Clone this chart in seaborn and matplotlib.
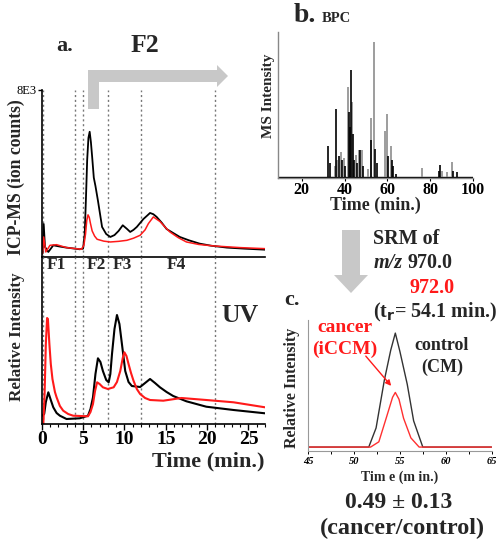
import numpy as np
import pandas as pd
import matplotlib
matplotlib.use("Agg")
import matplotlib.pyplot as plt
import seaborn as sns
from matplotlib.patches import Polygon, FancyArrowPatch

sns.set_theme(style="white")
plt.rcParams['font.family'] = ['Liberation Serif', 'DejaVu Serif']

# ---------------- data ----------------
# ICP-MS (ion counts), panel a top
icp_black_t = [0.1, 0.24, 0.4, 0.8, 1.4, 2.2, 3.0, 4.6, 5.0, 5.2, 5.35, 5.5, 5.65, 5.8, 5.95, 6.1, 6.3, 6.5, 6.8, 7.3, 7.8, 8.3, 8.8, 9.3, 9.8, 10.3, 10.7, 11.1, 11.5, 12.3, 12.8, 13.1, 13.5, 13.9, 14.5, 15.1, 15.9, 16.7, 17.8, 19.1, 20.5, 22.4, 24.5, 27.0]
icp_black_v = [160, 1580, 480, 240, 560, 500, 450, 370, 400, 1100, 2800, 4660, 5700, 6000, 5500, 4800, 3800, 3400, 2700, 1440, 1100, 960, 1050, 1250, 1520, 1350, 1200, 1300, 1440, 1820, 2000, 2110, 2050, 1920, 1650, 1340, 1150, 960, 800, 640, 540, 450, 400, 350]
icp_red_t = [0.1, 0.24, 0.5, 1.0, 1.8, 3.0, 4.8, 5.1, 5.3, 5.45, 5.6, 5.75, 5.9, 6.1, 6.4, 6.7, 7.5, 8.3, 9.3, 10.3, 11.1, 11.9, 12.5, 12.9, 13.5, 14.3, 15.0, 15.5, 16.5, 17.5, 19.0, 20.8, 24.0, 27.0]
icp_red_v = [160, 960, 240, 560, 590, 450, 370, 560, 1100, 1750, 2020, 1900, 1600, 1250, 1000, 850, 760, 720, 750, 800, 900, 1040, 1300, 1600, 1920, 1700, 1400, 1200, 930, 720, 600, 530, 450, 400]

# UV relative intensity, panel a bottom
uv_black_t = [0.0, 0.3, 0.5, 0.8, 1.1, 1.4, 1.8, 2.2, 3.0, 4.6, 5.6, 5.9, 6.2, 6.5, 6.8, 7.1, 7.4, 7.8, 8.1, 8.3, 8.5, 8.8, 9.1, 9.4, 9.6, 9.85, 10.1, 10.5, 10.9, 11.9, 12.5, 13.1, 13.7, 14.3, 15.1, 15.9, 17.5, 19.9, 23.2, 27.0]
uv_black_v = [8.0, 10.0, 22.0, 31.7, 24.0, 16.7, 11.0, 8.3, 5.0, 5.7, 8.3, 15.0, 26.7, 50.0, 65.7, 62.0, 53.0, 44.0, 41.7, 50.0, 70.0, 95.0, 109.0, 100.0, 86.7, 70.0, 53.0, 42.0, 38.0, 37.0, 41.0, 45.0, 41.0, 36.7, 32.0, 28.0, 22.7, 17.3, 14.0, 10.7]
uv_red_t = [0.2, 0.35, 0.5, 0.65, 0.75, 0.93, 1.1, 1.3, 1.6, 1.8, 2.2, 2.6, 3.2, 3.8, 5.6, 5.9, 6.2, 6.45, 6.7, 7.0, 7.4, 8.0, 8.7, 9.1, 9.5, 9.8, 10.0, 10.25, 10.5, 10.8, 11.1, 11.5, 11.9, 12.5, 13.1, 14.7, 16.9, 19.9, 23.2, 27.0]
uv_red_v = [0.7, 30.0, 80.0, 106.0, 105.0, 80.0, 60.0, 45.0, 32.0, 26.7, 18.0, 13.3, 10.0, 8.3, 7.7, 12.0, 20.0, 33.0, 41.7, 40.0, 36.7, 35.0, 36.7, 42.0, 53.0, 66.0, 71.7, 68.0, 60.0, 51.0, 43.3, 35.0, 30.0, 26.0, 24.0, 23.3, 26.0, 24.0, 21.7, 16.7]

fraction_bounds = [0.2, 4, 5, 8, 12, 21]
fraction_labels = ["F1", "F2", "F3", "F4"]
fraction_label_t = [1.8, 6.6, 9.8, 16.3]
uv_xticks = [0, 5, 10, 15, 20, 25]

# BPC, panel b (stick peaks)
bpc_black_t = [32.2, 33.0, 36.0, 37.5, 38.8, 40.2, 42.1, 42.6, 42.9, 43.8, 44.5, 46.0, 47.4, 48.6, 52.5, 54.2, 55.0, 60.2, 62.2, 62.8, 64.0, 84.0, 84.8, 90.8, 92.5]
bpc_black_h = [0.22, 0.10, 0.47, 0.15, 0.12, 0.08, 0.45, 0.35, 0.74, 0.30, 0.12, 0.10, 0.19, 0.08, 0.26, 0.20, 0.10, 0.15, 0.125, 0.08, 0.03, 0.05, 0.09, 0.05, 0.04]
bpc_gray_t = [35.5, 36.6, 38.2, 39.5, 41.5, 43.3, 45.3, 46.8, 48.0, 51.0, 52.1, 53.7, 58.7, 59.7, 61.6, 76.0, 85.5, 88.0, 90.0]
bpc_gray_h = [0.08, 0.12, 0.18, 0.14, 0.62, 0.52, 0.16, 0.19, 0.19, 0.06, 0.41, 0.93, 0.32, 0.44, 0.22, 0.07, 0.05, 0.04, 0.11]
bpc_xticks = [20, 40, 60, 80, 100]

# SRM, panel c
srm_control_t = [45.0, 51.6, 52.4, 53.3, 54.0, 54.5, 55.0, 55.8, 56.5, 57.5, 65.0]
srm_control_v = [0.03, 0.03, 0.176, 0.54, 0.77, 0.90, 0.76, 0.51, 0.23, 0.03, 0.03]
srm_cancer_t = [45.0, 51.8, 52.7, 53.5, 54.2, 54.5, 54.9, 55.4, 56.2, 57.1, 65.0]
srm_cancer_v = [0.03, 0.03, 0.07, 0.25, 0.41, 0.447, 0.395, 0.25, 0.10, 0.03, 0.03]
srm_xticks = [45, 50, 55, 60, 65]

# ---------------- figure ----------------
W, H = 496, 543
fig = plt.figure(figsize=(W / 100, H / 100), dpi=100)

def ax_px(x0, y0, x1, y1):
    return fig.add_axes([x0 / W, 1 - y1 / H, (x1 - x0) / W, (y1 - y0) / H])

def fpx(x, y):
    return x / W, 1 - y / H

RED = "#ff1a1a"

# panel a top: ICP-MS
ax1 = ax_px(41.7, 90, 265, 257)
ax2 = ax_px(41.7, 257, 265, 424)

icp_b = pd.DataFrame({"t": icp_black_t, "v": icp_black_v})
icp_r = pd.DataFrame({"t": icp_red_t, "v": icp_red_v})
sns.lineplot(data=icp_b, x="t", y="v", ax=ax1, color="black", lw=1.3, estimator=None)
sns.lineplot(data=icp_r, x="t", y="v", ax=ax1, color=RED, lw=1.1, estimator=None)
ax1.set_xlim(0, 27)
ax1.set_ylim(0, 8000)
ax1.set_yticks([8000])
ax1.set_yticklabels(["8E3"], fontsize=9)
ax1.set_xticks([])
ax1.set_xlabel("")
ax1.set_ylabel("ICP-MS (ion counts)", fontsize=12.7, fontweight="bold", labelpad=0)
ax1.yaxis.set_label_coords(-0.075, 0.48)
ax1.tick_params(axis="y", length=3, width=1, left=True, pad=1, colors="black")
for s in ["top", "right"]:
    ax1.spines[s].set_visible(False)
for s in ["left", "bottom"]:
    ax1.spines[s].set_color("black")
    ax1.spines[s].set_linewidth(1.2)
ax1.set_facecolor("none")

uv_b = pd.DataFrame({"t": uv_black_t, "v": uv_black_v})
uv_r = pd.DataFrame({"t": uv_red_t, "v": uv_red_v})
sns.lineplot(data=uv_b, x="t", y="v", ax=ax2, color="black", lw=1.5, estimator=None)
sns.lineplot(data=uv_r, x="t", y="v", ax=ax2, color=RED, lw=1.5, estimator=None)
ax2.set_xlim(0, 27)
ax2.set_ylim(0, 167)
ax2.set_yticks([])
ax2.set_xticks(uv_xticks)
ax2.set_xticks(np.arange(0, 28, 1), minor=True)
ax2.set_xticklabels([str(v) for v in uv_xticks], fontsize=14, fontweight="bold")
ax2.tick_params(axis="x", which="major", length=4, width=1, bottom=True, direction="out", pad=1, colors="black")
ax2.tick_params(axis="x", which="minor", length=2.5, width=0.8, bottom=True, direction="out", colors="black")
ax2.set_xlabel("Time (min.)", fontsize=16, fontweight="bold", labelpad=0)
ax2.xaxis.set_label_coords(0.747, -0.165)
ax2.set_ylabel("Relative Intensity", fontsize=12.3, fontweight="bold", labelpad=6)
ax2.yaxis.set_label_coords(-0.075, 0.52)
for s in ["top", "right"]:
    ax2.spines[s].set_visible(False)
for s in ["left", "bottom"]:
    ax2.spines[s].set_color("black")
    ax2.spines[s].set_linewidth(1.2)
ax2.set_facecolor("none")

for b in fraction_bounds:
    for a in (ax1, ax2):
        a.axvline(b, color="#777777", lw=1.0, ls=(0, (1.5, 2.0)), zorder=0)
for lab, t in zip(fraction_labels, fraction_label_t):
    ax2.text(t, 159, lab, fontsize=12.5, fontweight="bold", ha="center", va="center")
ax2.text(26.2, 108, "UV", fontsize=18.5, fontweight="bold", ha="right", va="center")

# gray F2 arrow (bent)
gray = "#c8c8c8"
arrow_pts = [(88, 109), (99, 109), (99, 82), (217, 82), (217, 87), (228, 76), (217, 65), (217, 70), (88, 70)]
fig.patches.append(Polygon([fpx(x, y) for x, y in arrow_pts], closed=True,
                           transform=fig.transFigure, facecolor=gray, edgecolor="none"))
fig.text(*fpx(145, 46), "F2", fontsize=18.5, fontweight="bold", ha="center", va="center")
fig.text(*fpx(65, 46), "a.", fontsize=16, fontweight="bold", ha="center", va="center")

# panel b: BPC
ax3 = ax_px(278.3, 32, 473, 178)
base = pd.DataFrame({"t": [9.0, 100.0], "v": [0.01, 0.01]})
sns.lineplot(data=base, x="t", y="v", ax=ax3, color="black", lw=1.0, estimator=None)
ax3.vlines(bpc_gray_t, 0.01, bpc_gray_h, color="#8c8c8c", lw=1.2)
ax3.vlines(bpc_black_t, 0.01, bpc_black_h, color="black", lw=1.2)
ax3.set_xlim(9, 100)
ax3.set_ylim(0, 1)
ax3.set_yticks([])
ax3.set_xticks(bpc_xticks)
ax3.set_xticklabels([str(v) for v in bpc_xticks], fontsize=11.5, fontweight="bold")
ax3.tick_params(axis="x", length=2, width=0.8, bottom=True, pad=1, colors="black")
ax3.set_xlabel("Time (min.)", fontsize=13, fontweight="bold", labelpad=-1)
ax3.set_ylabel("MS Intensity", fontsize=11, fontweight="bold", labelpad=3)
ax3.yaxis.set_label_coords(-0.017, 0.56)
for s in ["top", "right"]:
    ax3.spines[s].set_visible(False)
for s in ["left", "bottom"]:
    ax3.spines[s].set_color("#888888")
    ax3.spines[s].set_linewidth(1.0)
fig.text(*fpx(305, 16), "b.", fontsize=20, fontweight="bold", ha="center", va="center")
fig.text(*fpx(336, 19), "BPC", fontsize=10.5, fontweight="bold", ha="center", va="center")

# down arrow
down_pts = [(342, 230), (360, 230), (360, 275), (368, 275), (351, 293), (334, 275), (342, 275)]
fig.patches.append(Polygon([fpx(x, y) for x, y in down_pts], closed=True,
                           transform=fig.transFigure, facecolor=gray, edgecolor="none"))
fig.text(*fpx(373, 239), "SRM of", fontsize=14.5, fontweight="bold", ha="left", va="center")
fig.text(*fpx(374, 263), "m/z", fontsize=14.5, fontweight="bold", fontstyle="italic", ha="left", va="center")
fig.text(*fpx(407, 263), "970.0", fontsize=14.5, fontweight="bold", ha="left", va="center")
fig.text(*fpx(410, 288), "972.0", fontsize=14.5, fontweight="bold", color=RED, ha="left", va="center")
fig.text(*fpx(373, 312), r"(t$_\mathbf{r}$= 54.1 min.)", fontsize=14.5, fontweight="bold", ha="left", va="center")
fig.text(*fpx(292, 300), "c.", fontsize=16, fontweight="bold", ha="center", va="center")

# panel c: SRM
ax4 = ax_px(308.3, 320, 491.5, 451)
srm_c = pd.DataFrame({"t": srm_control_t, "v": srm_control_v})
srm_k = pd.DataFrame({"t": srm_cancer_t, "v": srm_cancer_v})
sns.lineplot(data=srm_c, x="t", y="v", ax=ax4, color="#333333", lw=1.0, estimator=None)
sns.lineplot(data=srm_k, x="t", y="v", ax=ax4, color="#ff3030", lw=1.0, estimator=None)
ax4.set_xlim(45, 65)
ax4.set_ylim(0, 1)
ax4.set_yticks([])
ax4.set_xticks(srm_xticks)
ax4.set_xticks([47.5, 52.5, 57.5, 62.5], minor=True)
ax4.set_xticklabels([str(v) for v in srm_xticks], fontsize=7.5, fontweight="bold", fontstyle="italic")
ax4.tick_params(axis="x", which="major", length=2.5, width=0.7, bottom=True, pad=2, colors="black")
ax4.tick_params(axis="x", which="minor", length=1.8, width=0.7, bottom=True, colors="black")
ax4.set_xlabel("Tim e (m in.)", fontsize=10, fontweight="bold", labelpad=3)
ax4.set_ylabel("Relative Intensity", fontsize=11.5, fontweight="bold", labelpad=3)
ax4.yaxis.set_label_coords(-0.045, 0.48)
for s in ["top", "right"]:
    ax4.spines[s].set_visible(False)
for s in ["left", "bottom"]:
    ax4.spines[s].set_color("#999999")
    ax4.spines[s].set_linewidth(0.8)
fig.text(*fpx(345, 327), "cancer", fontsize=14, fontweight="bold", color=RED, ha="center", va="center")
fig.text(*fpx(345, 349), "(iCCM)", fontsize=14, fontweight="bold", color=RED, ha="center", va="center")
fig.text(*fpx(442, 345), "control", fontsize=13, fontweight="bold", ha="center", va="center")
fig.text(*fpx(442, 367), "(CM)", fontsize=13, fontweight="bold", ha="center", va="center")
fig.patches.append(FancyArrowPatch(fpx(364, 354), fpx(393, 388),
                   transform=fig.transFigure, arrowstyle="-|>", mutation_scale=8,
                   color=RED, lw=1.0))
fig.text(*fpx(399, 503), "0.49 ± 0.13", fontsize=17, fontweight="bold", ha="center", va="center")
fig.text(*fpx(402, 528), "(cancer/control)", fontsize=17.5, fontweight="bold", ha="center", va="center")

fig.savefig("out.png", dpi=100)
